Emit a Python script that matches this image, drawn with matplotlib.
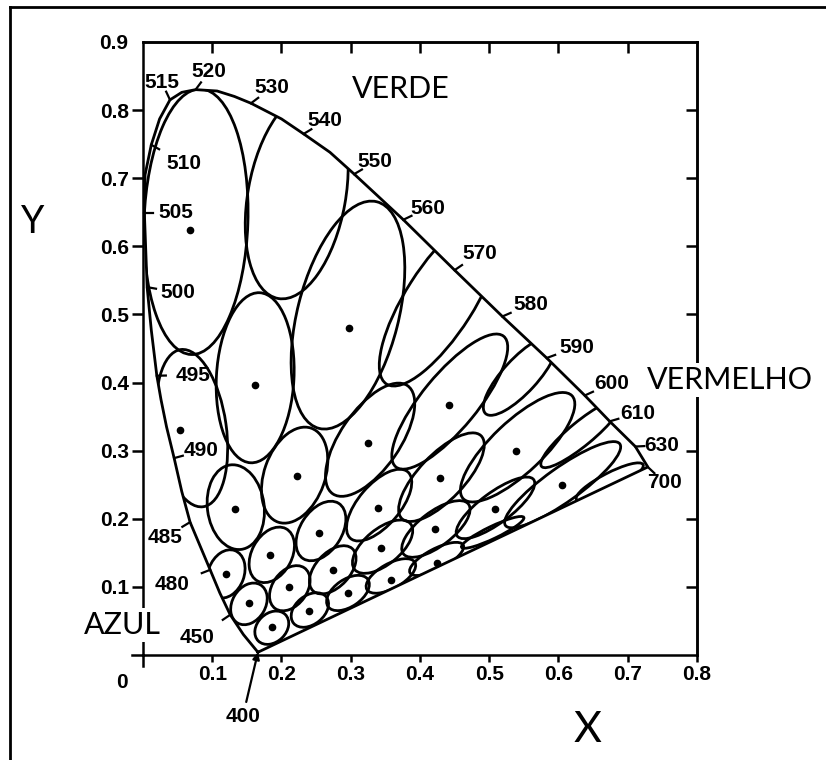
import matplotlib.pyplot as plt
from matplotlib.patches import Ellipse, Polygon
from matplotlib.lines import Line2D
import numpy as np

# spectral locus as drawn in the figure (None = no wavelength tick there)
locus_wl = [400, None, 450, None, 480, 485, None, 490, None, None, 495, None, 500, 505, None,
            510, None, 515, None, 520, None, None, 530, None, 540, None, 550, None, 560,
            570, 580, 590, 600, 610, 630, 700]
locus_x = [0.166, 0.145, 0.126, 0.111, 0.097, 0.068, 0.056, 0.045, 0.034, 0.026, 0.020, 0.012,
           0.006, 0.002, 0.003, 0.012, 0.024, 0.039, 0.056, 0.076, 0.107, 0.132, 0.156, 0.200,
           0.232, 0.270, 0.305, 0.340, 0.376, 0.450, 0.519, 0.583, 0.638, 0.674, 0.711, 0.729]
locus_y = [0.004, 0.030, 0.059, 0.091, 0.125, 0.195, 0.240, 0.289, 0.335, 0.375, 0.410, 0.477,
           0.540, 0.649, 0.705, 0.749, 0.787, 0.815, 0.826, 0.830, 0.828, 0.820, 0.810, 0.787,
           0.765, 0.738, 0.706, 0.673, 0.639, 0.565, 0.497, 0.436, 0.381, 0.343, 0.306, 0.276]

# ellipses: centre, major axis, minor axis, angle (deg)
ell_x = [0.0765, 0.222, 0.0707, 0.162, 0.296, 0.429,
         0.134, 0.219, 0.328, 0.443, 0.545,
         0.120, 0.186, 0.257, 0.341, 0.431, 0.541, 0.633,
         0.153, 0.212, 0.274, 0.346, 0.423, 0.509, 0.606,
         0.186, 0.241, 0.296, 0.358, 0.424, 0.505, 0.674]
ell_y = [0.636, 0.674, 0.333, 0.407, 0.499, 0.521,
         0.217, 0.264, 0.316, 0.372, 0.410,
         0.119, 0.147, 0.182, 0.220, 0.261, 0.305, 0.325,
         0.075, 0.098, 0.125, 0.159, 0.185, 0.216, 0.250,
         0.040, 0.066, 0.091, 0.116, 0.141, 0.180, 0.254]
ell_major = [0.390, 0.306, 0.233, 0.250, 0.343, 0.291,
             0.125, 0.146, 0.192, 0.247, 0.150,
             0.073, 0.087, 0.096, 0.128, 0.167, 0.218, 0.150,
             0.065, 0.073, 0.084, 0.105, 0.119, 0.138, 0.204,
             0.055, 0.061, 0.070, 0.080, 0.087, 0.100, 0.109]
ell_minor = [0.150, 0.141, 0.099, 0.112, 0.146, 0.099,
             0.082, 0.088, 0.086, 0.080, 0.050,
             0.052, 0.058, 0.060, 0.060, 0.066, 0.075, 0.035,
             0.048, 0.050, 0.050, 0.052, 0.050, 0.045, 0.050,
             0.042, 0.042, 0.040, 0.036, 0.030, 0.018, 0.026]
ell_angle = [88, 80, 98, 87, 76, 58,
             97, 71, 56, 51, 48,
             70, 62, 58, 50, 47, 44, 40,
             60, 55, 48, 40, 38, 37, 36,
             45, 40, 35, 30, 28, 26, 28]

# centre dots
dot_x = [0.068, 0.297, 0.162, 0.053, 0.442, 0.325, 0.222, 0.133, 0.538, 0.429, 0.339, 0.254, 0.183,
         0.120, 0.605, 0.509, 0.421, 0.343, 0.274, 0.211, 0.153, 0.424, 0.358, 0.296, 0.240, 0.186]
dot_y = [0.624, 0.480, 0.396, 0.330, 0.367, 0.311, 0.263, 0.214, 0.300, 0.260, 0.216, 0.179, 0.147,
         0.119, 0.250, 0.214, 0.185, 0.157, 0.125, 0.100, 0.076, 0.135, 0.110, 0.091, 0.065, 0.041]

# where each wavelength number is written
label_pos = {515: (0.027, 0.841), 520: (0.095, 0.856), 530: (0.186, 0.833), 540: (0.263, 0.784),
             550: (0.335, 0.724), 560: (0.411, 0.656), 570: (0.486, 0.590), 580: (0.560, 0.515),
             590: (0.626, 0.452), 600: (0.677, 0.399), 610: (0.714, 0.355), 630: (0.749, 0.308),
             700: (0.753, 0.253), 510: (0.059, 0.722), 505: (0.048, 0.649), 500: (0.051, 0.532),
             495: (0.072, 0.411), 490: (0.084, 0.300), 485: (0.032, 0.173), 480: (0.042, 0.103),
             450: (0.078, 0.026)}

fig = plt.figure(figsize=(8.26, 7.6), dpi=100)
ax = fig.add_axes([0.1731, 0.1382, 0.6707, 0.8066])
ax.set_xlim(0, 0.8)
ax.set_ylim(0, 0.9)

bold = dict(fontfamily='Liberation Sans', fontweight='bold', fontsize=15)
thin = dict(fontfamily='Lato', fontweight='normal', color='k')

for s in ax.spines.values():
    s.set_linewidth(1.8)

ax.set_xticks([0.1, 0.2, 0.3, 0.4, 0.5, 0.6, 0.7, 0.8])
ax.set_xticklabels(['0.1', '0.2', '0.3', '0.4', '0.5', '0.6', '0.7', '0.8'], **bold)
ax.set_yticks([0.1, 0.2, 0.3, 0.4, 0.5, 0.6, 0.7, 0.8])
ax.set_yticklabels(['0.1', '0.2', '0.3', '0.4', '0.5', '0.6', '0.7', '0.8'], **bold)
ax.tick_params(axis='x', direction='out', length=5, width=1.8, pad=2)
ax.tick_params(axis='y', direction='out', length=8, width=1.8, pad=2)

top = ax.secondary_xaxis('top')
top.set_xticks([0.1, 0.2, 0.3, 0.4, 0.5, 0.6, 0.7])
top.tick_params(direction='in', length=8, width=1.8, labeltop=False)
top.spines['top'].set_linewidth(1.8)
right = ax.secondary_yaxis('right')
right.set_yticks([0.1, 0.2, 0.3, 0.4, 0.5, 0.6, 0.7, 0.8])
right.tick_params(direction='in', length=8, width=1.8, labelright=False)
right.spines['right'].set_linewidth(1.8)

ax.text(-0.030, -0.040, '0', ha='center', va='center', **bold)
ax.text(-0.043, 0.897, '0.9', ha='center', va='center', **bold)
ax.plot([0, 0], [-0.016, 0], color='k', lw=1.8, clip_on=False)
ax.plot([-0.016, 0], [0, 0], color='k', lw=1.8, clip_on=False)

# spectral locus and purple line
ax.plot(locus_x + [locus_x[0]], locus_y + [locus_y[0]], color='k', lw=2)
clip = Polygon(np.column_stack([locus_x, locus_y]), closed=True, transform=ax.transData)

for x, y, w, h, a in zip(ell_x, ell_y, ell_major, ell_minor, ell_angle):
    e = Ellipse((x, y), w, h, angle=a, fill=False, edgecolor='k', lw=2)
    ax.add_patch(e)
    e.set_clip_path(clip)

ax.plot(dot_x, dot_y, 'o', color='k', ms=4.5)

# wavelength numbers with their little ticks
for wl, x, y in zip(locus_wl, locus_x, locus_y):
    if wl is None or wl == 400:
        continue
    lx, ly = label_pos[wl]
    d = np.array([(lx - x) * 693, (ly - y) * 681])
    d = d / np.hypot(*d) * 9
    ax.plot([x, x + d[0] / 693], [y, y + d[1] / 681], color='k', lw=1.6, clip_on=False)
    ax.text(lx, ly, str(wl), ha='center', va='center', **bold)

ax.annotate('400', xy=(locus_x[0], locus_y[0]), xytext=(0.144, -0.091), ha='center', va='center',
            annotation_clip=False, **bold,
            arrowprops=dict(arrowstyle='-|>', color='k', lw=1.6, mutation_scale=10, shrinkA=2, shrinkB=0))

white = dict(facecolor='white', edgecolor='none', pad=2)
ax.text(0.372, 0.831, 'VERDE', ha='center', va='center', fontsize=22, **thin)
ax.text(0.847, 0.404, 'VERMELHO', ha='center', va='center', fontsize=22, bbox=white, clip_on=False, **thin)
ax.text(-0.029, 0.044, 'AZUL', ha='center', va='center', fontsize=22, bbox=white, clip_on=False, **thin)
ax.text(-0.159, 0.636, 'Y', ha='center', va='center', fontsize=27, **thin)
ax.text(0.642, -0.110, 'X', ha='center', va='center', fontsize=31, **thin)

# page frame of the scan
fig.add_artist(Line2D([10 / 826, 10 / 826], [0, 1 - 7 / 760], color='k', lw=2))
fig.add_artist(Line2D([10 / 826, 1], [1 - 7 / 760, 1 - 7 / 760], color='k', lw=2))

fig.savefig('out.png', dpi=100)
